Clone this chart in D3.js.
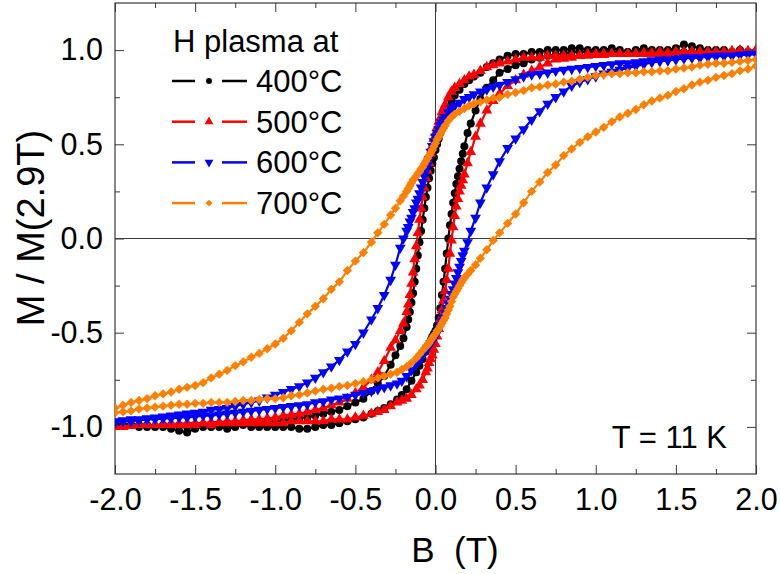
<!DOCTYPE html>
<html><head><meta charset="utf-8">
<script src="https://cdn.jsdelivr.net/npm/d3@7"></script>
<style>
body{margin:0;background:#fff}
svg{display:block}
text{font-family:"Liberation Sans",Arial,Helvetica,sans-serif;fill:#000}
</style>
</head><body>
<svg id="chart" width="780" height="574"></svg>
<script>
// ---------------- data ----------------
const fieldDown = [
 2.00,1.95,1.90,1.85,1.80,1.75,1.70,1.65,1.60,1.55,1.50,1.45,1.40,1.35,1.30,1.25,1.20,1.15,1.10,1.05,1.00,0.95,0.90,0.85,0.80,0.75,0.70,0.65,0.60,
 0.55,0.50,0.45,0.40,0.36,0.32,0.28,0.24,0.21,0.18,0.15,0.12,
 0.10,0.08,
 0.06,0.05,0.04,0.03,0.02,0.01,0.00,-0.01,-0.02,-0.03,-0.04,-0.05,-0.06,-0.07,-0.08,-0.09,-0.10,-0.11,-0.12,-0.13,-0.14,-0.15,-0.16,-0.17,-0.18,
 -0.20,-0.22,
 -0.25,-0.28,-0.32,-0.36,-0.40,-0.45,-0.50,-0.55,
 -0.60,-0.65,-0.70,-0.75,-0.80,-0.85,-0.90,-0.95,-1.00,-1.05,-1.10,-1.15,-1.20,-1.25,-1.30,-1.35,-1.40,-1.45,-1.50,-1.55,-1.60,-1.65,-1.70,-1.75,-1.80,-1.85,-1.90,-1.95,-2.00
];
const fieldUp = [
 -2.00,-1.95,-1.90,-1.85,-1.80,-1.75,-1.70,-1.65,-1.60,-1.55,-1.50,-1.45,-1.40,-1.35,-1.30,-1.25,-1.20,-1.15,-1.10,-1.05,-1.00,-0.95,-0.90,-0.85,-0.80,-0.75,-0.70,-0.65,-0.60,
 -0.55,-0.50,-0.45,-0.40,-0.36,-0.32,-0.28,-0.24,-0.21,-0.18,-0.15,-0.12,
 -0.10,-0.08,
 -0.06,-0.05,-0.04,-0.03,-0.02,-0.01,0.00,0.01,0.02,0.03,0.04,0.05,0.06,0.07,0.08,0.09,0.10,0.11,0.12,0.13,0.14,0.15,0.16,0.17,0.18,
 0.20,0.22,
 0.25,0.28,0.32,0.36,0.40,0.45,0.50,0.55,
 0.60,0.65,0.70,0.75,0.80,0.85,0.90,0.95,1.00,1.05,1.10,1.15,1.20,1.25,1.30,1.35,1.40,1.45,1.50,1.55,1.60,1.65,1.70,1.75,1.80,1.85,1.90,1.95,2.00
];

// 400 °C
const m400Down = [
 0.99,0.99,1.00,0.99,1.00,1.00,1.00,1.01,1.02,1.03,1.01,1.00,1.00,1.00,1.01,1.00,0.99,1.00,1.01,1.00,1.00,1.00,1.01,1.01,1.00,1.00,1.00,0.99,0.99,
 0.98,0.98,0.97,0.95,0.93,0.91,0.88,0.86,0.84,0.82,0.79,0.76,
 0.73,0.70,
 0.65,0.62,0.59,0.56,0.53,0.50,0.47,0.43,0.40,0.36,0.32,0.27,0.22,0.16,0.10,0.04,-0.02,-0.09,-0.16,-0.23,-0.29,-0.34,-0.39,-0.43,-0.47,
 -0.53,-0.57,
 -0.62,-0.67,-0.73,-0.77,-0.81,-0.85,-0.87,-0.89,
 -0.91,-0.92,-0.93,-0.94,-0.95,-0.955,-0.96,-0.965,-0.97,-0.975,-0.98,-0.98,-0.985,-0.99,-0.99,-0.99,-0.995,-0.99,-0.99,-1.00,-0.99,-0.99,-0.99,-0.995,-0.99,-0.99,-0.99,-0.99,-0.99
];
const m400Up = [
 -0.99,-0.99,-0.99,-1.00,-1.00,-1.00,-1.00,-1.01,-1.02,-1.03,-1.01,-1.00,-1.00,-1.00,-1.01,-1.00,-0.99,-1.00,-1.00,-1.00,-1.00,-1.00,-1.00,-1.01,-1.01,-1.00,-0.99,-0.99,-0.98,
 -0.97,-0.96,-0.95,-0.93,-0.915,-0.90,-0.88,-0.855,-0.83,-0.80,-0.755,-0.71,
 -0.675,-0.64,
 -0.60,-0.58,-0.56,-0.54,-0.52,-0.505,-0.49,-0.46,-0.42,-0.37,-0.30,-0.23,-0.16,-0.08,0.00,0.07,0.13,0.19,0.24,0.29,0.33,0.37,0.41,0.45,0.49,
 0.56,0.61,
 0.68,0.74,0.80,0.84,0.88,0.90,0.92,0.93,
 0.95,0.96,0.97,0.975,0.98,0.99,0.99,0.99,0.99,0.99,0.99,0.99,0.99,0.995,0.99,0.99,0.99,0.99,0.99,0.99,0.99,0.99,0.99,0.99,0.99,0.99,0.99,0.99,0.99
];
// 500 °C
const m500Down = [
 1.00,0.99,1.00,0.99,0.99,0.99,0.99,0.99,0.99,0.99,0.99,0.98,0.99,0.98,0.98,0.98,0.98,0.98,0.98,0.98,0.98,0.98,0.97,0.97,0.97,0.97,0.97,0.96,0.96,
 0.96,0.95,0.94,0.93,0.92,0.91,0.89,0.87,0.86,0.84,0.82,0.80,
 0.78,0.75,
 0.71,0.69,0.67,0.64,0.62,0.59,0.56,0.53,0.49,0.45,0.40,0.36,0.32,0.27,0.22,0.16,0.10,0.03,-0.04,-0.11,-0.18,-0.24,-0.30,-0.35,-0.39,
 -0.45,-0.49,
 -0.54,-0.58,-0.65,-0.71,-0.75,-0.79,-0.82,-0.85,
 -0.87,-0.885,-0.90,-0.91,-0.92,-0.93,-0.935,-0.94,-0.95,-0.955,-0.96,-0.96,-0.965,-0.97,-0.97,-0.975,-0.975,-0.98,-0.98,-0.98,-0.985,-0.985,-0.99,-0.99,-0.99,-0.99,-0.995,-1.00,-1.00
];
const m500Up = [
 -1.00,-1.00,-0.99,-0.99,-0.99,-0.99,-0.99,-0.99,-0.99,-0.99,-0.99,-0.98,-0.99,-0.98,-0.98,-0.98,-0.98,-0.98,-0.98,-0.98,-0.98,-0.98,-0.97,-0.97,-0.97,-0.97,-0.97,-0.96,-0.96,
 -0.96,-0.95,-0.94,-0.93,-0.92,-0.91,-0.89,-0.87,-0.86,-0.85,-0.83,-0.80,
 -0.78,-0.75,
 -0.71,-0.69,-0.66,-0.64,-0.62,-0.59,-0.56,-0.52,-0.48,-0.43,-0.38,-0.33,-0.28,-0.22,-0.16,-0.08,-0.01,0.06,0.12,0.17,0.21,0.25,0.28,0.31,0.34,
 0.40,0.46,
 0.54,0.61,0.68,0.73,0.77,0.81,0.84,0.87,
 0.89,0.91,0.93,0.95,0.955,0.96,0.97,0.97,0.975,0.975,0.98,0.98,0.98,0.98,0.985,0.985,0.98,0.985,0.99,0.985,0.99,0.99,0.99,0.99,0.99,0.995,0.99,0.995,1.00
];
// 600 °C
const m600Down = [
 0.98,0.98,0.975,0.97,0.97,0.97,0.965,0.96,0.96,0.96,0.955,0.95,0.95,0.945,0.94,0.935,0.93,0.93,0.925,0.92,0.915,0.91,0.905,0.90,0.895,0.89,0.88,0.875,0.87,
 0.86,0.845,0.83,0.815,0.805,0.79,0.78,0.765,0.75,0.74,0.72,0.705,
 0.69,0.67,
 0.645,0.63,0.615,0.60,0.58,0.56,0.54,0.515,0.49,0.46,0.42,0.39,0.36,0.33,0.30,0.27,0.24,0.21,0.19,0.16,0.14,0.11,0.09,0.06,0.04,
 0.00,-0.05,
 -0.14,-0.22,-0.30,-0.37,-0.43,-0.50,-0.56,-0.60,
 -0.645,-0.68,-0.71,-0.74,-0.765,-0.785,-0.80,-0.815,-0.83,-0.845,-0.86,-0.87,-0.88,-0.89,-0.90,-0.905,-0.91,-0.92,-0.925,-0.93,-0.935,-0.94,-0.945,-0.95,-0.955,-0.96,-0.96,-0.965,-0.97
];
const m600Up = [
 -0.975,-0.97,-0.97,-0.965,-0.96,-0.96,-0.955,-0.955,-0.95,-0.95,-0.945,-0.94,-0.94,-0.935,-0.93,-0.925,-0.92,-0.915,-0.91,-0.905,-0.90,-0.895,-0.89,-0.885,-0.88,-0.87,-0.865,-0.855,-0.85,
 -0.84,-0.83,-0.82,-0.81,-0.80,-0.79,-0.78,-0.77,-0.755,-0.73,-0.70,-0.665,
 -0.645,-0.62,
 -0.595,-0.58,-0.57,-0.555,-0.545,-0.53,-0.515,-0.50,-0.48,-0.46,-0.44,-0.42,-0.395,-0.37,-0.345,-0.32,-0.295,-0.27,-0.24,-0.21,-0.18,-0.15,-0.12,-0.09,-0.065,
 -0.02,0.04,
 0.11,0.19,0.27,0.34,0.41,0.48,0.53,0.58,
 0.63,0.675,0.715,0.75,0.78,0.81,0.83,0.845,0.86,0.875,0.885,0.895,0.905,0.915,0.925,0.935,0.94,0.945,0.95,0.955,0.96,0.96,0.965,0.965,0.97,0.97,0.975,0.975,0.98
];
// 700 °C
const m700Down = [
 0.95,0.945,0.94,0.935,0.93,0.93,0.925,0.92,0.91,0.905,0.90,0.89,0.89,0.885,0.885,0.88,0.88,0.875,0.875,0.87,0.865,0.855,0.845,0.835,0.83,0.82,0.815,0.805,0.80,
 0.785,0.775,0.765,0.75,0.745,0.735,0.725,0.715,0.705,0.69,0.675,0.66,
 0.645,0.625,
 0.60,0.585,0.57,0.555,0.54,0.525,0.505,0.49,0.47,0.455,0.44,0.425,0.41,0.395,0.38,0.37,0.355,0.345,0.33,0.32,0.31,0.295,0.28,0.265,0.25,
 0.225,0.20,
 0.16,0.125,0.075,0.03,-0.02,-0.075,-0.12,-0.17,
 -0.23,-0.27,-0.32,-0.36,-0.40,-0.445,-0.49,-0.53,-0.56,-0.585,-0.61,-0.63,-0.655,-0.675,-0.70,-0.72,-0.74,-0.765,-0.78,-0.79,-0.80,-0.815,-0.825,-0.835,-0.85,-0.86,-0.87,-0.885,-0.90
];
const m700Up = [
 -0.925,-0.92,-0.915,-0.905,-0.90,-0.895,-0.89,-0.885,-0.88,-0.88,-0.875,-0.875,-0.87,-0.87,-0.87,-0.865,-0.86,-0.86,-0.855,-0.85,-0.85,-0.845,-0.835,-0.83,-0.82,-0.81,-0.80,-0.795,-0.785,
 -0.78,-0.77,-0.76,-0.75,-0.74,-0.73,-0.72,-0.71,-0.695,-0.68,-0.66,-0.635,
 -0.615,-0.595,
 -0.575,-0.565,-0.555,-0.54,-0.53,-0.515,-0.505,-0.49,-0.48,-0.465,-0.45,-0.435,-0.42,-0.40,-0.38,-0.36,-0.335,-0.31,-0.295,-0.28,-0.265,-0.25,-0.235,-0.22,-0.21,
 -0.19,-0.17,
 -0.14,-0.105,-0.06,-0.01,0.03,0.08,0.13,0.19,
 0.25,0.30,0.35,0.39,0.44,0.475,0.51,0.54,0.565,0.59,0.62,0.645,0.665,0.685,0.71,0.73,0.745,0.76,0.78,0.795,0.815,0.83,0.84,0.855,0.865,0.875,0.89,0.90,0.915
];

const seriesNames = ["400°C","500°C","600°C","700°C"];
const seriesColors = ["#000000","#ff0000","#0000ff","#ff8000"];
const xTicks = [-2,-1.5,-1,-0.5,0,0.5,1,1.5,2];
const xTickLabels = ["-2.0","-1.5","-1.0","-0.5","0.0","0.5","1.0","1.5","2.0"];
const xMinorTicks = [-1.75,-1.25,-0.75,-0.25,0.25,0.75,1.25,1.75];
const yTicks = [-1,-0.5,0,0.5,1];
const yTickLabels = ["-1.0","-0.5","0.0","0.5","1.0"];
const yMinorTicks = [-0.75,-0.25,0.25,0.75];
const legendTitle = "H plasma at";
const xTitle = "B  (T)";
const yTitle = "M / M(2.9T)";
const note = "T = 11 K";

// ---------------- build ----------------
const downSets = [m400Down,m500Down,m600Down,m700Down];
const upSets = [m400Up,m500Up,m600Up,m700Up];
downSets.concat(upSets).forEach((a,i)=>{
  const f = i<4 ? fieldDown : fieldUp;
  if (a.length !== f.length) console.error("length mismatch", i, a.length, f.length);
});
const series = seriesNames.map((name,i)=>({
  name, color: seriesColors[i],
  points: fieldDown.map((b,j)=>[b,downSets[i][j]]).concat(fieldUp.map((b,j)=>[b,upSets[i][j]]))
}));

const W=780,H=574;
const L=115,R=756,T=3,B=474;
const x = d3.scaleLinear().domain([-2,2]).range([L,R]);
const y = d3.scaleLinear().domain([-1.25,1.25]).range([B,T]);
const svg = d3.select("#chart");
svg.append("rect").attr("width",W).attr("height",H).attr("fill","#fff");

const axisColor = "#3a3a3a";
// zero lines
svg.append("line").attr("x1",L).attr("x2",R).attr("y1",y(0)).attr("y2",y(0)).attr("stroke",axisColor).attr("stroke-width",1);
svg.append("line").attr("x1",x(0)).attr("x2",x(0)).attr("y1",T).attr("y2",B).attr("stroke",axisColor).attr("stroke-width",1);

function styleAxis(g){
  g.select(".domain").remove();
  g.selectAll(".tick line").attr("stroke",axisColor).attr("stroke-width",1);
  g.selectAll(".tick text").style("font-size","30.5px").attr("fill","#000");
}
// bottom
svg.append("g").attr("transform",`translate(0,${B})`)
  .call(d3.axisBottom(x).tickValues(xTicks).tickSize(-9).tickPadding(14).tickFormat((d,i)=>xTickLabels[i]))
  .call(styleAxis);
svg.append("g").attr("transform",`translate(0,${B})`)
  .call(d3.axisBottom(x).tickValues(xMinorTicks).tickSize(-5).tickFormat(""))
  .call(styleAxis);
// top
svg.append("g").attr("transform",`translate(0,${T})`)
  .call(d3.axisTop(x).tickValues(xTicks).tickSize(-9).tickFormat(""))
  .call(styleAxis);
svg.append("g").attr("transform",`translate(0,${T})`)
  .call(d3.axisTop(x).tickValues(xMinorTicks).tickSize(-5).tickFormat(""))
  .call(styleAxis);
// left
svg.append("g").attr("transform",`translate(${L},0)`)
  .call(d3.axisLeft(y).tickValues(yTicks).tickSize(-9).tickPadding(12).tickFormat((d,i)=>yTickLabels[i]))
  .call(styleAxis);
svg.append("g").attr("transform",`translate(${L},0)`)
  .call(d3.axisLeft(y).tickValues(yMinorTicks).tickSize(-5).tickFormat(""))
  .call(styleAxis);
// right
svg.append("g").attr("transform",`translate(${R},0)`)
  .call(d3.axisRight(y).tickValues(yTicks).tickSize(-9).tickFormat(""))
  .call(styleAxis);
svg.append("g").attr("transform",`translate(${R},0)`)
  .call(d3.axisRight(y).tickValues(yMinorTicks).tickSize(-5).tickFormat(""))
  .call(styleAxis);

// frame
svg.append("rect").attr("x",L).attr("y",T).attr("width",R-L).attr("height",B-T)
  .attr("fill","none").attr("stroke",axisColor).attr("stroke-width",1.2);

// markers
const symbolDefs = [
  {type:d3.symbolCircle, size:50, rot:0},
  {type:d3.symbolTriangle, size:50, rot:0},
  {type:d3.symbolTriangle, size:50, rot:180},
  {type:d3.symbolSquare, size:44, rot:45}
];
const legendSymbolSize = [28,34,34,24];

svg.append("clipPath").attr("id","plotclip").append("rect")
  .attr("x",L).attr("y",T).attr("width",R-L).attr("height",B-T);
const plot = svg.append("g").attr("clip-path","url(#plotclip)");
const line = d3.line().x(d=>x(d[0])).y(d=>y(d[1]));

series.forEach((s,i)=>{
  const g = plot.append("g");
  g.append("path").attr("d",line(s.points)).attr("fill","none")
    .attr("stroke",s.color).attr("stroke-width",2.2).attr("stroke-linejoin","round");
  const sym = d3.symbol().type(symbolDefs[i].type).size(symbolDefs[i].size);
  g.selectAll("path.m").data(s.points).join("path").attr("class","m")
    .attr("d",sym())
    .attr("transform",d=>`translate(${x(d[0])},${y(d[1])}) rotate(${symbolDefs[i].rot})`)
    .attr("fill",s.color);
});

// legend
svg.append("text").attr("x",173).attr("y",52).style("font-size","31px").text(legendTitle);
const legY0 = 81, legStep = 40.7;
series.forEach((s,i)=>{
  const yy = legY0 + i*legStep;
  const g = svg.append("g");
  g.append("line").attr("x1",172).attr("x2",195).attr("y1",yy).attr("y2",yy).attr("stroke",s.color).attr("stroke-width",2.5);
  g.append("line").attr("x1",222).attr("x2",247).attr("y1",yy).attr("y2",yy).attr("stroke",s.color).attr("stroke-width",2.5);
  g.append("path").attr("d",d3.symbol().type(symbolDefs[i].type).size(legendSymbolSize[i])())
    .attr("transform",`translate(209,${yy}) rotate(${symbolDefs[i].rot})`).attr("fill",s.color);
  g.append("text").attr("x",256).attr("y",yy+11).style("font-size","31px").text(s.name);
});

// annotation
svg.append("text").attr("x",727).attr("y",448).attr("text-anchor","end").style("font-size","31px").text(note);

// axis titles
svg.append("text").attr("x",455).attr("y",562).attr("text-anchor","middle")
  .style("font-size","35px").style("white-space","pre").text(xTitle);
svg.append("text").attr("transform","translate(44,228) rotate(-90)").attr("text-anchor","middle")
  .style("font-size","38px").text(yTitle);
</script>
</body></html>
